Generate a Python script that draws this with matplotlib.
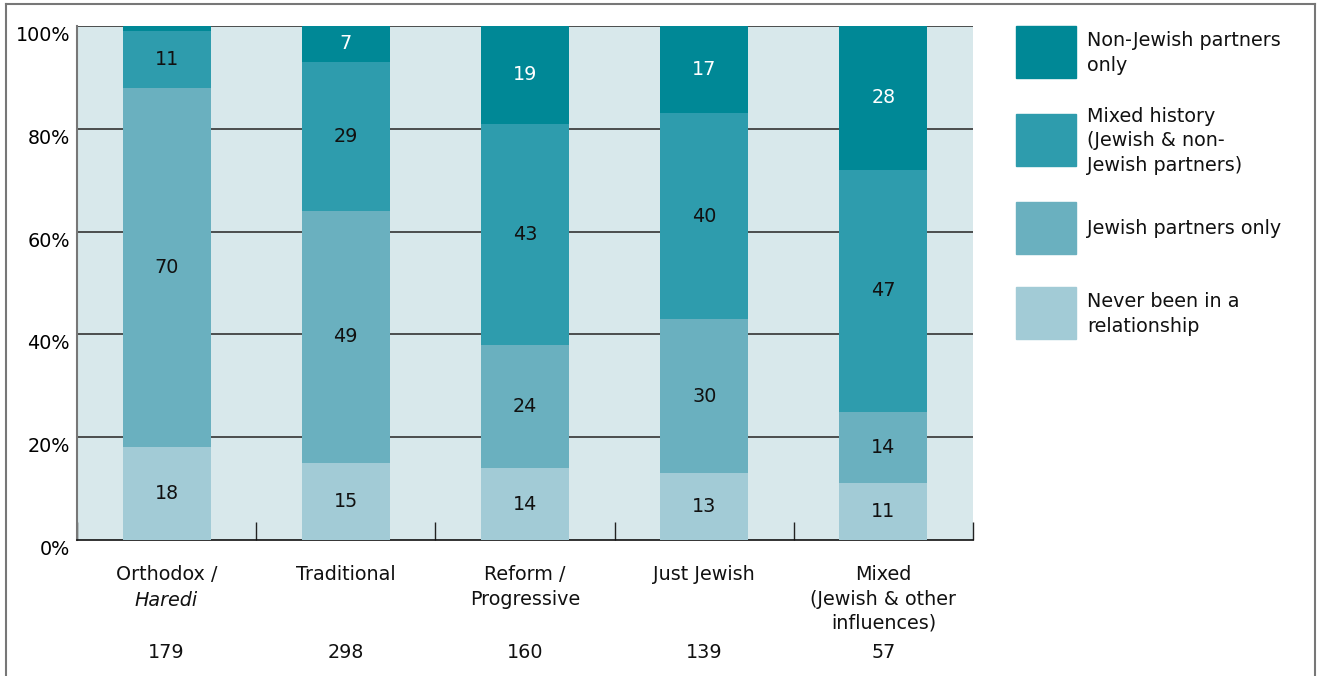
import numpy as np
import matplotlib.pyplot as plt
from matplotlib.patches import Rectangle
from matplotlib.lines import Line2D

plt.rcParams['font.family'] = ['DejaVu Sans']

groups = ["Orthodox /", "Traditional", "Reform /\nProgressive", "Just Jewish",
          "Mixed\n(Jewish & other\ninfluences)"]
counts = [179, 298, 160, 139, 57]

never = [18, 15, 14, 13, 11]
jewish_only = [70, 49, 24, 30, 14]
mixed_hist = [11, 29, 43, 40, 47]
non_jewish = [1, 7, 19, 17, 28]

series = [never, jewish_only, mixed_hist, non_jewish]
names = ["Never been in a\nrelationship", "Jewish partners only",
         "Mixed history\n(Jewish & non-\nJewish partners)", "Non-Jewish partners\nonly"]
colors = ["#a2cbd6", "#6ab0bf", "#2e9cad", "#008896"]
txt_colors = ["#111111", "#111111", "#111111", "white"]

FS = 13.8
LS = 1.36

fig = plt.figure(figsize=(13.2, 6.76), dpi=100)
ax = fig.add_axes([77/1320, 1-540/676, 896/1320, 514/676])
ax.set_facecolor("#d8e8eb")

x = np.arange(len(groups))
bottom = np.zeros(len(groups))
for vals, col, tc in zip(series, colors, txt_colors):
    vals = np.array(vals, dtype=float)
    ax.bar(x, vals, 0.49, bottom=bottom, color=col, zorder=3)
    for xi, b, v in zip(x, bottom, vals):
        if v >= 5:
            ax.text(xi, b + v/2, f"{int(v)}", ha='center', va='center',
                    fontsize=FS, color=tc, zorder=4)
    bottom += vals

ax.set_xlim(-0.5, len(groups) - 0.5)
ax.set_ylim(0, 100)
ax.set_yticks([0, 20, 40, 60, 80, 100])
ax.set_yticklabels(["0%", "20%", "40%", "60%", "80%", "100%"], fontsize=FS)
for lab in ax.get_yticklabels():
    lab.set_va('top')
ax.tick_params(axis='y', length=0, pad=5)
for yv in [20, 40, 60, 80, 100]:
    ax.axhline(yv, color="#333333", lw=1.2, zorder=1)

ax.set_xticks(np.arange(len(groups) + 1) - 0.5)
ax.set_xticklabels([])
ax.tick_params(axis='x', direction='in', length=13, width=1, color="#222222")

for s in ['top', 'right']:
    ax.spines[s].set_visible(False)
ax.spines['left'].set_color("#777777")
ax.spines['left'].set_linewidth(1.5)
ax.spines['bottom'].set_color("#111111")
ax.spines['bottom'].set_linewidth(1.2)

# category labels and counts
for xi, g, n in zip(x, groups, counts):
    ax.text(xi, -4.9, g, ha='center', va='top', fontsize=FS,
            linespacing=LS, color="#111111", clip_on=False)
    ax.text(xi, -20.0, str(n), ha='center', va='top', fontsize=FS,
            color="#111111", clip_on=False)
ax.text(0, -9.9, "Haredi", ha='center', va='top', fontsize=FS,
        style='italic', color="#111111", clip_on=False)

# legend drawn by hand
W, H = 1320, 676
leg_tops = [26, 114, 202, 287]
for top, nm, col in zip(leg_tops, names[::-1], colors[::-1]):
    fig.patches.append(Rectangle((1016/W, 1-(top+52)/H), 60/W, 52/H,
                                 transform=fig.transFigure, color=col))
    fig.text(1087/W, 1-(top+27)/H, nm, ha='left', va='center',
             fontsize=FS, linespacing=LS, color="#111111")

# frame
for xs, ys in [([6/W, 6/W], [0, 1-4/H]), ([6/W, 1315/W], [1-4/H, 1-4/H]),
               ([1315/W, 1315/W], [1-4/H, 0])]:
    fig.add_artist(Line2D(xs, ys, color="#777777", lw=1.5,
                          transform=fig.transFigure))

fig.savefig("out.png", dpi=100)
